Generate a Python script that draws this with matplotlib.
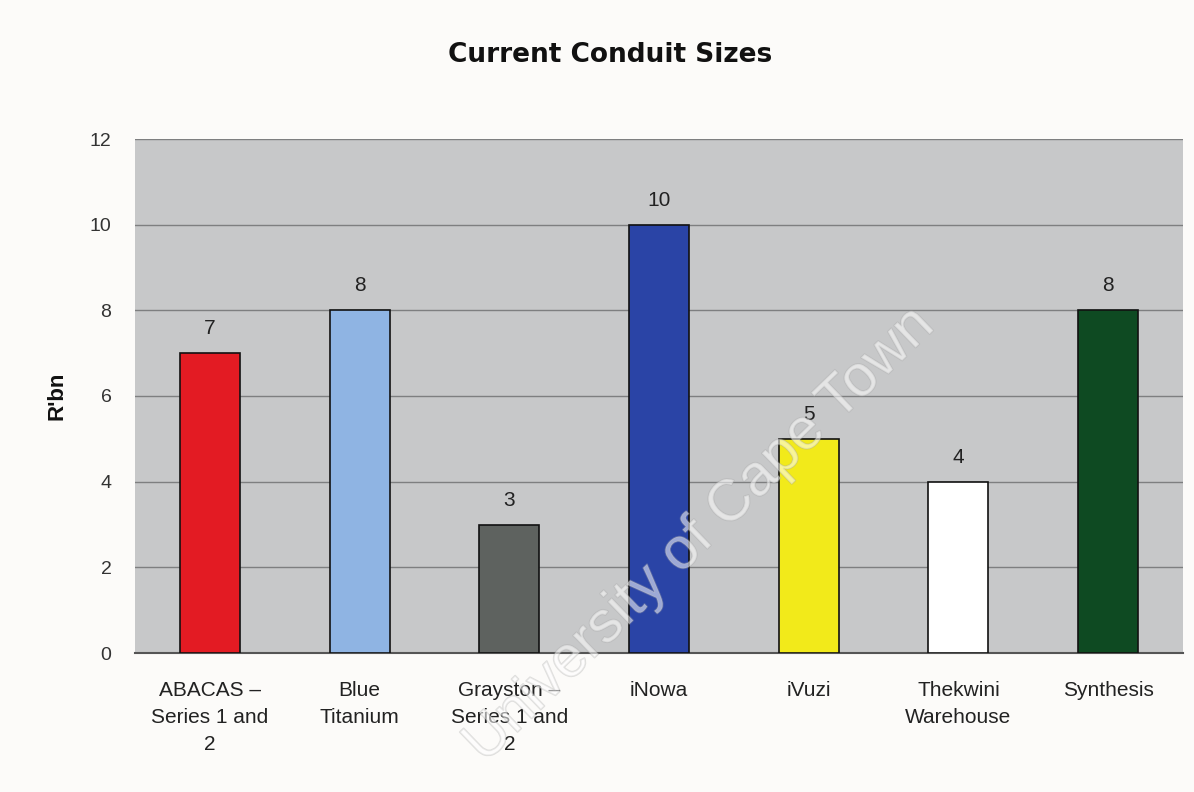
import matplotlib
matplotlib.use("Agg")
import matplotlib.pyplot as plt
import matplotlib.patheffects as pe

categories = ["ABACAS –\nSeries 1 and\n2", "Blue\nTitanium", "Grayston –\nSeries 1 and\n2",
              "iNowa", "iVuzi", "Thekwini\nWarehouse", "Synthesis"]
values = [7, 8, 3, 10, 5, 4, 8]
colors = ["#E31B23", "#8FB4E3", "#5E625F", "#2A44A6", "#F2EA1A", "#FFFFFF", "#0E4A22"]
yticks = [0, 2, 4, 6, 8, 10, 12]

plt.rcParams['font.family'] = ['Liberation Sans', 'DejaVu Sans']

fig = plt.figure(figsize=(11.94, 7.92), dpi=100, facecolor="#FCFBF9")
ax = fig.add_axes([135/1194, 1-653/792, 1048/1194, 514/792])
ax.set_facecolor("#C7C8C9")

x = list(range(len(categories)))
ax.set_axisbelow(True)
ax.yaxis.grid(True, color="#7E7F80", lw=1)
ax.bar(x, values, width=0.4, color=colors, edgecolor="#111111", lw=1.2, zorder=3)
for xi, v in zip(x, values):
    ax.text(xi, v + 0.35, str(v), ha="center", va="bottom", fontsize=15, color="#222222")

ax.set_xlim(-0.5, len(categories) - 0.5)
ax.set_ylim(0, 12)
ax.set_yticks(yticks)
ax.set_yticklabels([str(t) for t in yticks], fontsize=14, color="#333333")
ax.set_xticks(x)
ax.set_xticklabels(categories, fontsize=15, color="#222222", linespacing=1.55)
ax.tick_params(axis="y", length=0, pad=17)
ax.tick_params(axis="x", length=0, pad=20)
for s in ["left", "right", "top"]:
    ax.spines[s].set_visible(False)
ax.spines["bottom"].set_color("#555555")
ax.spines["bottom"].set_lw(1.5)

ax.set_ylabel("R'bn", fontsize=16, fontweight="bold", labelpad=16, color="#111111")
fig.text(610/1194, 1-55/792, "Current Conduit Sizes", ha="center", va="center",
         fontsize=19, fontweight="bold", color="#111111", family="DejaVu Sans")

wm = fig.text(700/1194, 1-535/792, "University of Cape Town", ha="center", va="center",
              rotation=44, fontsize=42, color="white", alpha=0.3, zorder=10)
wm.set_path_effects([pe.withStroke(linewidth=1.2, foreground="#A8A8A8", alpha=0.35)])

fig.savefig("out.png", dpi=100, facecolor=fig.get_facecolor())
